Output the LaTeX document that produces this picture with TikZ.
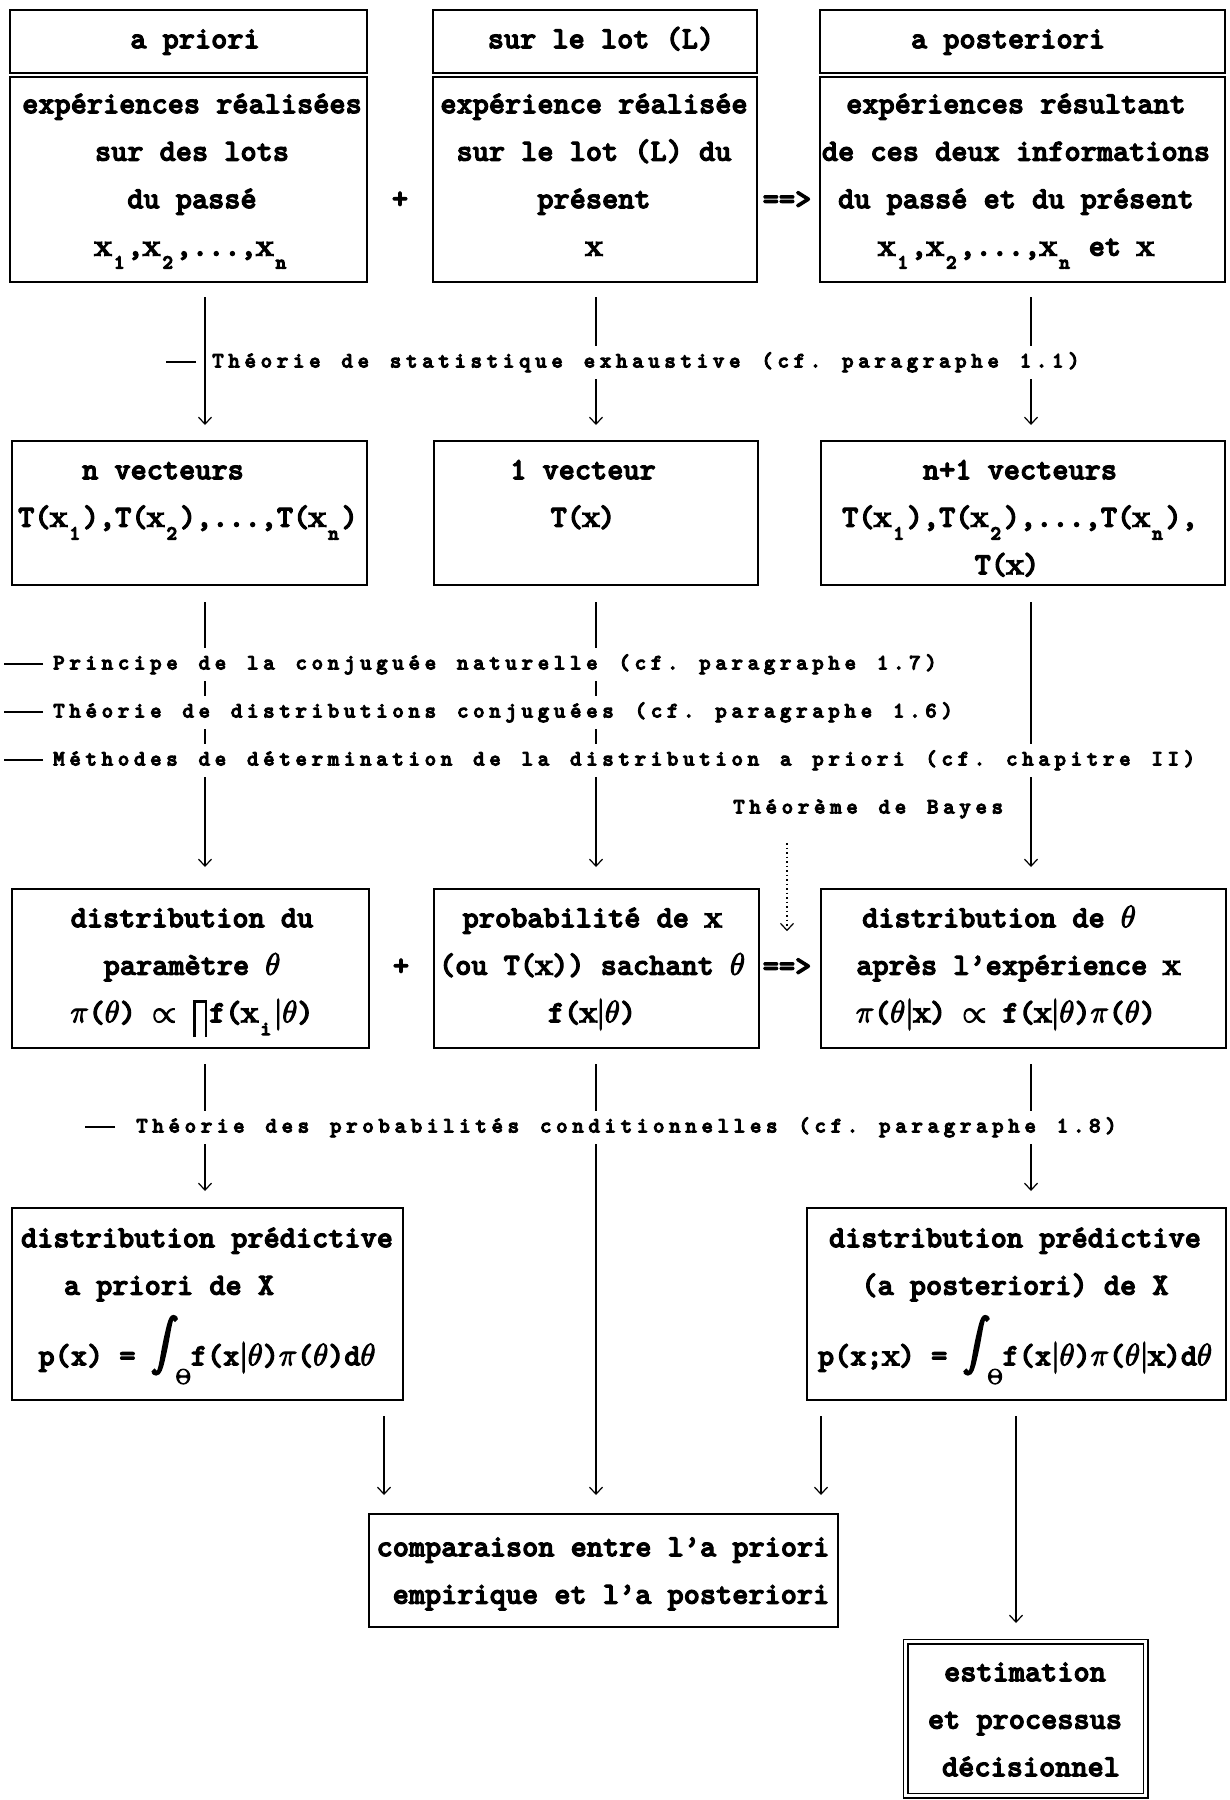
\RequirePackage{fix-cm}
\documentclass[tikz,border=0pt]{standalone}
\usepackage{graphicx}
\usetikzlibrary{arrows.meta}
\makeatletter
\newdimen\lspk
\lspk=4.6pt
\newcommand\lsp[1]{\lsp@a#1\@nil}
\def\lsp@a#1{\ifx#1\@nil\else#1\kern\lspk\expandafter\lsp@a\fi}
\makeatother
\newcommand\fbold{\special{pdf:literal direct 2 Tr 1.1 w}}
\newcommand\fboldl{\special{pdf:literal direct 2 Tr 0.9 w}}
\newcommand\bxx{\makebox[0.525em]{$\mathbf{x}$}}
\newcommand\sbs[1]{\raisebox{-0.42em}{\makebox[0.525em]{\fontsize{20}{20}\selectfont #1}}}
\newcommand\fl{\rule{0pt}{26pt}}
\newcommand\bigprod{\kern1pt\rule[-15pt]{2.4pt}{37pt}\kern-2.4pt\rule[19.6pt]{14pt}{2.4pt}\kern-2.4pt\rule[-15pt]{2.4pt}{37pt}\kern2pt}
\newcommand\intTh{\scalebox{2.6}{$\displaystyle\int$}\kern-2pt\raisebox{-0.6em}{\fontsize{21}{21}\selectfont$\Theta$}}
\tikzset{
  box/.style={draw, line width=2pt, rectangle, inner sep=0pt, anchor=north west},
  txt/.style={font=\fontsize{30.8}{47.5}\selectfont\ttfamily\bfseries\fbold, align=center, inner sep=0pt, anchor=north},
  sym/.style={font=\fontsize{30.8}{47.5}\selectfont\ttfamily\bfseries\fbold, inner sep=0pt},
  lab/.style={font=\fontsize{22}{26}\selectfont\ttfamily\bfseries\fboldl, fill=white, inner xsep=3pt, inner ysep=7pt, text height=15pt, text depth=4pt, anchor=west},
  conn/.style={line width=1.2pt, -{Straight Barb[length=7pt,width=13pt]}, shorten <=15pt, shorten >=16pt},
  dashl/.style={line width=2.4pt},
  dots/.style={line width=1.2pt, dash pattern=on 1.5pt off 3pt, -{Straight Barb[length=7pt,width=13pt]}}
}
\begin{document}
\begin{tikzpicture}[x=1pt,y=-1pt]
\useasboundingbox (0,0) rectangle (1230,1800);
% ---- boxes
\node[box, minimum width=357pt, minimum height=63pt]  (t1) at (9,9) {};
\node[box, minimum width=357pt, minimum height=205pt] (b1) at (9,76) {};
\node[box, minimum width=324pt, minimum height=63pt]  (t2) at (432,9) {};
\node[box, minimum width=324pt, minimum height=205pt] (b2) at (432,76) {};
\node[box, minimum width=405pt, minimum height=63pt]  (t3) at (819,9) {};
\node[box, minimum width=405pt, minimum height=205pt] (b3) at (819,76) {};
\node[box, minimum width=355pt, minimum height=144pt] (r2L) at (11,440) {};
\node[box, minimum width=324pt, minimum height=144pt] (r2M) at (433,440) {};
\node[box, minimum width=404pt, minimum height=144pt] (r2R) at (820,440) {};
\node[box, minimum width=357pt, minimum height=159pt] (r3L) at (11,888) {};
\node[box, minimum width=325pt, minimum height=159pt] (r3M) at (433,888) {};
\node[box, minimum width=405pt, minimum height=159pt] (r3R) at (820,888) {};
\node[box, minimum width=391pt, minimum height=192pt] (r4L) at (11,1207) {};
\node[box, minimum width=419pt, minimum height=192pt] (r4R) at (806,1207) {};
\node[box, minimum width=469pt, minimum height=113pt] (cmp) at (368,1513) {};
\node[box, double, double distance=3pt, line width=1.6pt, minimum width=240pt, minimum height=154pt] (fin) at (905,1641) {};
% ---- texts
\node[txt] (tt1) at (195,22) {\fl a priori};
\node[txt] (tt2) at (601,22) {\fl sur le lot (L)};
\node[txt] (tt3) at (1008,22) {\fl a posteriori};
\node[txt] (bt1) at (192,87) {\fl expériences réalisées\\sur des lots\\du passé\\\bxx\sbs{1},\bxx\sbs{2},...,\bxx\sbs{n}};
\node[txt] (bt2) at (594,87) {\fl expérience réalisée\\sur le lot (L) du\\présent\\\bxx};
\node[txt] (bt3) at (1016,87) {\fl expériences résultant\\de ces deux informations\\du passé et du présent\\\bxx\sbs{1},\bxx\sbs{2},...,\bxx\sbs{n} et \bxx};
\node[txt] (tx2L) at (188,453) {\fl n vecteurs\hspace*{50pt}\\T(\bxx\sbs{1}),T(\bxx\sbs{2}),...,T(\bxx\sbs{n})};
\node[txt] (tx2M) at (583,453) {\fl 1 vecteur\\T(\bxx)};
\node[txt] (tx2R) at (1020,453) {\fl n+1 vecteurs\\T(\bxx\sbs{1}),T(\bxx\sbs{2}),...,T(\bxx\sbs{n}),\\T(\bxx)\hspace*{26pt}};
\node[txt] (tx3L) at (192,901) {\fl distribution du\\paramètre $\theta$\\$\pi$($\theta$) $\propto$ \bigprod f(\bxx\sbs{i}$\vert\theta$)};
\node[txt] (tx3M) at (592,901) {\fl probabilité de \bxx\\(ou T(\bxx)) sachant $\theta$\\f(\bxx$\vert\theta$)};
\node[txt] (tx3R) at (1018,901) {\fl distribution de $\theta$\hspace*{38pt}\\après l’expérience \bxx\\$\pi$($\theta\vert$\bxx) $\propto$ f(\bxx$\vert\theta$)$\pi$($\theta$)\hspace*{24pt}};
\node[txt] (tx4L) at (207,1221) {\fl distribution prédictive\\a priori de X\hspace*{76pt}\rule{0pt}{0pt}\\[14pt]p(x) = \intTh f(x$\vert\theta$)$\pi$($\theta$)d$\theta$};
\node[txt] (tx4R) at (1015,1221) {\fl distribution prédictive\\(a posteriori) de X\\[14pt]p(x;\bxx) = \intTh f(x$\vert\theta$)$\pi$($\theta\vert$\bxx)d$\theta$};
\node[txt] (txc) at (603,1530) {\fl comparaison entre l’a priori\\\hspace*{16pt}empirique et l’a posteriori};
\node[txt] (txf) at (1025,1655) {\fl estimation\\et processus\\\hspace*{12pt}décisionnel};
\node[sym] (plus1) at (400,200) {+};
\node[sym] (imp1) at (787,200) {==>};
\node[sym] (plus2) at (401,967) {+};
\node[sym] (imp2) at (787,967) {==>};
% ---- connectors
\coordinate (xL) at (205,0);
\coordinate (xM) at (596,0);
\coordinate (xR) at (1031,0);
\coordinate (xA) at (384,0);
\coordinate (xB) at (821,0);
\coordinate (xC) at (1016,0);
\coordinate (bayesfoot) at (787,843);
\draw[conn, shorten <=14pt, shorten >=15pt] (b1.south -| xL) -- (r2L.north -| xL);
\draw[conn, shorten <=14pt, shorten >=15pt] (b2.south -| xM) -- (r2M.north -| xM);
\draw[conn, shorten <=14pt, shorten >=15pt] (b3.south -| xR) -- (r2R.north -| xR);
\draw[conn, shorten <=16pt, shorten >=21pt] (r2L.south -| xL) -- (r3L.north -| xL);
\draw[conn, shorten <=16pt, shorten >=21pt] (r2M.south -| xM) -- (r3M.north -| xM);
\draw[conn, shorten <=16pt, shorten >=21pt] (r2R.south -| xR) -- (r3R.north -| xR);
\draw[conn] (r3L.south -| xL) -- (r4L.north -| xL);
\draw[conn, shorten >=18pt] (r3M.south -| xM) -- (cmp.north -| xM);
\draw[conn] (r3R.south -| xR) -- (r4R.north -| xR);
\draw[conn, shorten >=18pt] (r4L.south -| xA) -- (cmp.north -| xA);
\draw[conn, shorten >=18pt] (r4R.south -| xB) -- (cmp.north -| xB);
\draw[conn, shorten >=18pt] (r4R.south -| xC) -- (fin.north -| xC);
\draw[dots, shorten >=27pt] (bayesfoot) -- (imp2.north);
% ---- labels
\node[lab] (l11) at (209,362) {\lsp{Théorie~de~statistique~exhaustive~(cf.~paragraphe~1.1)}};
\node[lab] (l17) at (50,664) {\lsp{Principe~de~la~conjuguée~naturelle~(cf.~paragraphe~1.7)}};
\node[lab] (l16) at (50,712) {\lsp{Théorie~de~distributions~conjuguées~(cf.~paragraphe~1.6)}};
\node[lab] (lme) at (50,760) {\lsp{Méthodes~de~détermination~de~la~distribution~a~priori~(cf.~chapitre~II)}};
\node[lab] (lby) at (730,808) {\lsp{Théorème~de~Bayes}};
\node[lab] (l18) at (133,1127) {\lsp{Théorie~des~probabilités~conditionnelles~(cf.~paragraphe~1.8)}};
\draw[dashl] ([xshift=-13pt]l11.west) -- ++(-30,0);
\draw[dashl] ([xshift=-7pt]l17.west) -- ++(-39,0);
\draw[dashl] ([xshift=-7pt]l16.west) -- ++(-39,0);
\draw[dashl] ([xshift=-7pt]lme.west) -- ++(-39,0);
\draw[dashl] ([xshift=-18pt]l18.west) -- ++(-30,0);
\end{tikzpicture}
\end{document}
